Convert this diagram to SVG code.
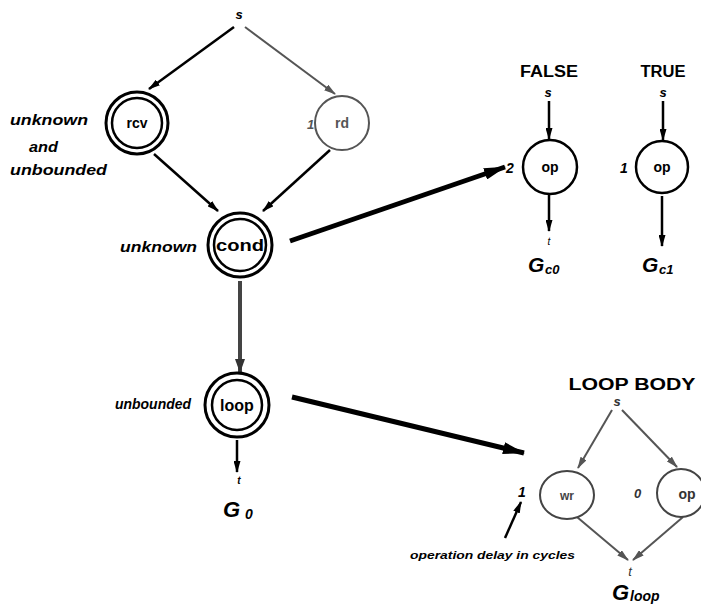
<svg xmlns="http://www.w3.org/2000/svg" width="701" height="609" viewBox="0 0 701 609">
<defs>
<style>
text{font-family:"Liberation Sans",Arial,sans-serif;}
.lbl{font-weight:bold;font-style:italic;font-size:15px;fill:#000;}
.nd{font-weight:bold;font-size:14px;text-anchor:middle;fill:#000;}
.hd{font-weight:bold;font-size:16px;text-anchor:middle;fill:#000;}
.st{font-style:italic;font-weight:bold;font-size:13px;text-anchor:middle;fill:#000;}
.G{font-weight:bold;font-style:italic;font-size:22px;fill:#000;}
.sub{font-weight:bold;font-style:italic;font-size:13px;fill:#000;}
.dbl{fill:#fff;stroke:#000;stroke-width:3;}
.in{fill:none;stroke:#000;stroke-width:2.5;}
.e{fill:none;stroke:#000;stroke-width:2.5;marker-end:url(#ah);}
.eg{fill:none;stroke:#555;stroke-width:2;marker-end:url(#ahg);}
.thick{fill:none;stroke:#000;stroke-width:5;marker-end:url(#big);}
</style>
<marker id="ah" markerUnits="userSpaceOnUse" markerWidth="12" markerHeight="7" refX="11" refY="3.5" orient="auto"><path d="M0,0 L12,3.5 L0,7 z" fill="#000"/></marker>
<marker id="ahg" markerUnits="userSpaceOnUse" markerWidth="12" markerHeight="7" refX="11" refY="3.5" orient="auto"><path d="M0,0 L12,3.5 L0,7 z" fill="#555"/></marker>
<marker id="big" markerUnits="userSpaceOnUse" markerWidth="22" markerHeight="12" refX="21" refY="6" orient="auto"><path d="M0,0 L22,6 L0,12 z" fill="#000"/></marker>
<marker id="bigg" markerUnits="userSpaceOnUse" markerWidth="14" markerHeight="10" refX="13" refY="5" orient="auto"><path d="M0,0 L14,5 L0,10 z" fill="#333"/></marker>
</defs>

<g id="connectors">
<line class="e" x1="234" y1="27" x2="149" y2="89"/>
<line class="eg" x1="245" y1="27" x2="335" y2="94"/>
<line class="e" x1="154" y1="154" x2="218" y2="211"/>
<line class="e" x1="330" y1="150" x2="263" y2="211"/>
<line class="thick" x1="290" y1="241" x2="505" y2="167"/>
<line x1="240" y1="281" x2="240" y2="372" stroke="#444" stroke-width="4" marker-end="url(#bigg)"/>
<line class="e" x1="237" y1="440" x2="237" y2="472"/>
<line class="thick" x1="292" y1="397" x2="524" y2="453"/>
<line class="e" x1="549" y1="101" x2="549" y2="139"/>
<line class="e" x1="549" y1="195" x2="549" y2="231"/>
<line class="e" x1="663" y1="101" x2="663" y2="140"/>
<line class="e" x1="662" y1="196" x2="662" y2="246" stroke-width="3"/>
<line class="eg" x1="612" y1="410" x2="578" y2="468"/>
<line class="eg" x1="622" y1="410" x2="677" y2="467"/>
<line class="eg" x1="577" y1="517" x2="628" y2="560"/>
<line class="eg" x1="683" y1="517" x2="633" y2="560"/>
<line class="e" x1="505" y1="538" x2="521" y2="502"/>
</g>

<g id="top-s"><text class="st" x="239" y="19">s</text></g>

<g id="rcv">
<circle class="dbl" cx="137" cy="123" r="31"/>
<circle class="in" cx="137" cy="123" r="25"/>
<text class="nd" x="137" y="128">rcv</text>
<text class="lbl" x="10" y="125" textLength="78" lengthAdjust="spacingAndGlyphs">unknown</text>
<text class="lbl" x="29" y="152" textLength="29" lengthAdjust="spacingAndGlyphs">and</text>
<text class="lbl" x="10" y="175" textLength="97" lengthAdjust="spacingAndGlyphs">unbounded</text>
</g>

<g id="rd">
<circle cx="342" cy="123" r="27" fill="#fff" stroke="#555" stroke-width="2"/>
<text class="nd" x="342" y="128" style="fill:#555">rd</text>
<text class="lbl" x="307" y="129" style="font-size:13px;fill:#555">1</text>
</g>

<g id="cond">
<circle class="dbl" cx="240" cy="245" r="32"/>
<circle class="in" cx="240" cy="245" r="26"/>
<text class="nd" x="240" y="251" textLength="48" lengthAdjust="spacingAndGlyphs" style="font-size:16px">cond</text>
<text class="lbl" x="120" y="252" textLength="77" lengthAdjust="spacingAndGlyphs">unknown</text>
</g>

<g id="loop">
<circle class="dbl" cx="237" cy="405" r="32"/>
<circle class="in" cx="237" cy="405" r="25"/>
<text class="nd" x="237" y="411" style="font-size:16px">loop</text>
<text class="lbl" x="115" y="409" textLength="76" lengthAdjust="spacingAndGlyphs">unbounded</text>
</g>

<g id="G0">
<text class="st" x="239" y="484" style="font-size:10px">t</text>
<text class="G" x="223" y="517">G</text>
<text class="sub" x="245" y="519" style="font-size:14px">0</text>
</g>

<g id="false-graph">
<text class="hd" x="549" y="77" textLength="58" lengthAdjust="spacingAndGlyphs">FALSE</text>
<text class="st" x="548" y="97">s</text>
<circle cx="550" cy="167" r="27" fill="#fff" stroke="#000" stroke-width="2.5"/>
<text class="nd" x="550" y="172">op</text>
<text class="lbl" x="506" y="173" style="font-size:14px">2</text>
<text class="st" x="549" y="245" style="font-size:10px;font-weight:normal">t</text>
<text class="G" x="528" y="272" style="font-size:21px">G</text>
<text class="sub" x="545" y="274">c0</text>
</g>

<g id="true-graph">
<text class="hd" x="663" y="77" textLength="45" lengthAdjust="spacingAndGlyphs">TRUE</text>
<text class="st" x="663" y="97">s</text>
<circle cx="662" cy="167" r="26" fill="#fff" stroke="#000" stroke-width="2.5"/>
<text class="nd" x="662" y="172">op</text>
<text class="lbl" x="620" y="173" style="font-size:14px">1</text>
<text class="G" x="642" y="272" style="font-size:21px">G</text>
<text class="sub" x="659" y="274">c1</text>
</g>

<g id="loop-body">
<text class="hd" x="632" y="390" textLength="127" lengthAdjust="spacingAndGlyphs">LOOP BODY</text>
<text class="st" x="617" y="406" style="fill:#333">s</text>
<ellipse cx="567" cy="495" rx="27" ry="24" fill="#fff" stroke="#444" stroke-width="2"/>
<text class="nd" x="567" y="500" style="font-size:12px;fill:#444">wr</text>
<ellipse cx="681" cy="493" rx="24" ry="24" fill="#fff" stroke="#444" stroke-width="2"/>
<text class="nd" x="687" y="499" style="fill:#333">op</text>
<text class="lbl" x="518" y="497" style="font-size:14px">1</text>
<text class="lbl" x="634" y="498" style="font-size:13px;fill:#333">0</text>
<text class="st" x="630" y="576" style="font-weight:normal;fill:#333">t</text>
<text class="G" x="612" y="600">G</text>
<text class="sub" x="630" y="601" style="font-size:14px">loop</text>
<text class="lbl" x="410" y="559" style="font-size:11px" textLength="165" lengthAdjust="spacingAndGlyphs">operation delay in cycles</text>
</g>
</svg>
